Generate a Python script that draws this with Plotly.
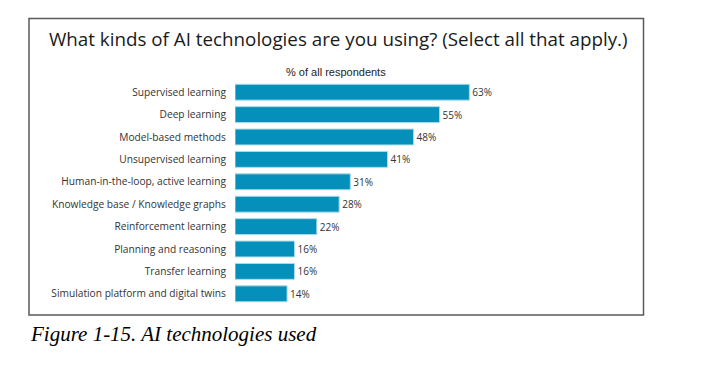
import plotly.graph_objects as go

categories = [
    "Supervised learning",
    "Deep learning",
    "Model-based methods",
    "Unsupervised learning",
    "Human-in-the-loop, active learning",
    "Knowledge base / Knowledge graphs",
    "Reinforcement learning",
    "Planning and reasoning",
    "Transfer learning",
    "Simulation platform and digital twins",
]
values = [63, 55, 48, 41, 31, 28, 22, 16, 16, 14]
value_labels = ["63%", "55%", "48%", "41%", "31%", "28%", "22%", "16%", "16%", "14%"]

W, H = 719, 371
L, T = 235, 81
PW, PH = 405, 224
R = W - L - PW
B = H - T - PH
PX_PER_PCT = 3.72


def px_x(x):
    return (x - L) / PW


def px_y(y):
    return (T + PH - y) / PH


fig = go.Figure()
fig.add_trace(go.Bar(
    x=values,
    y=categories,
    orientation="h",
    text=value_labels,
    textposition="outside",
    textfont=dict(family="Open Sans", size=10, color="#333333"),
    cliponaxis=False,
    marker=dict(color="#0590bb", line=dict(color="#a9dbeb", width=1)),
    hoverinfo="skip",
))

fig.update_layout(
    width=W, height=H,
    margin=dict(l=L, r=R, t=T, b=B, pad=0),
    paper_bgcolor="white",
    plot_bgcolor="white",
    bargap=0.29,
    showlegend=False,
    xaxis=dict(range=[0, PW / PX_PER_PCT], visible=False, fixedrange=True),
    yaxis=dict(
        autorange="reversed",
        showgrid=False, zeroline=False, showline=False,
        ticks="outside", ticklen=6, tickcolor="rgba(0,0,0,0)",
        tickfont=dict(family="Open Sans", size=10.2, color="#333333"),
        fixedrange=True,
    ),
    shapes=[dict(
        type="rect", xref="paper", yref="paper",
        x0=px_x(29), x1=px_x(643.5), y0=px_y(315), y1=px_y(18.5),
        line=dict(color="#5a5a5a", width=1.5), fillcolor="rgba(0,0,0,0)", layer="below",
    )],
    annotations=[
        dict(text="What kinds of AI technologies are you using? (Select all that apply.)",
             xref="paper", yref="paper", x=px_x(338), y=px_y(39), xanchor="center", yanchor="middle",
             showarrow=False, font=dict(family="Open Sans", size=18.8, color="#1a1a1a")),
        dict(text="% of all respondents",
             xref="paper", yref="paper", x=px_x(336), y=px_y(71.5), xanchor="center", yanchor="middle",
             showarrow=False, font=dict(family="Liberation Sans", size=11, color="#222222")),
        dict(text="<i>Figure 1-15. AI technologies used</i>",
             xref="paper", yref="paper", x=px_x(28), y=px_y(334), xanchor="left", yanchor="middle",
             showarrow=False, font=dict(family="Liberation Serif", size=21, color="#000000")),
    ],
)

fig.write_html(
    "out.html",
    config={"displayModeBar": False},
    post_script="document.body.style.margin='0';document.body.style.overflow='hidden';",
)
